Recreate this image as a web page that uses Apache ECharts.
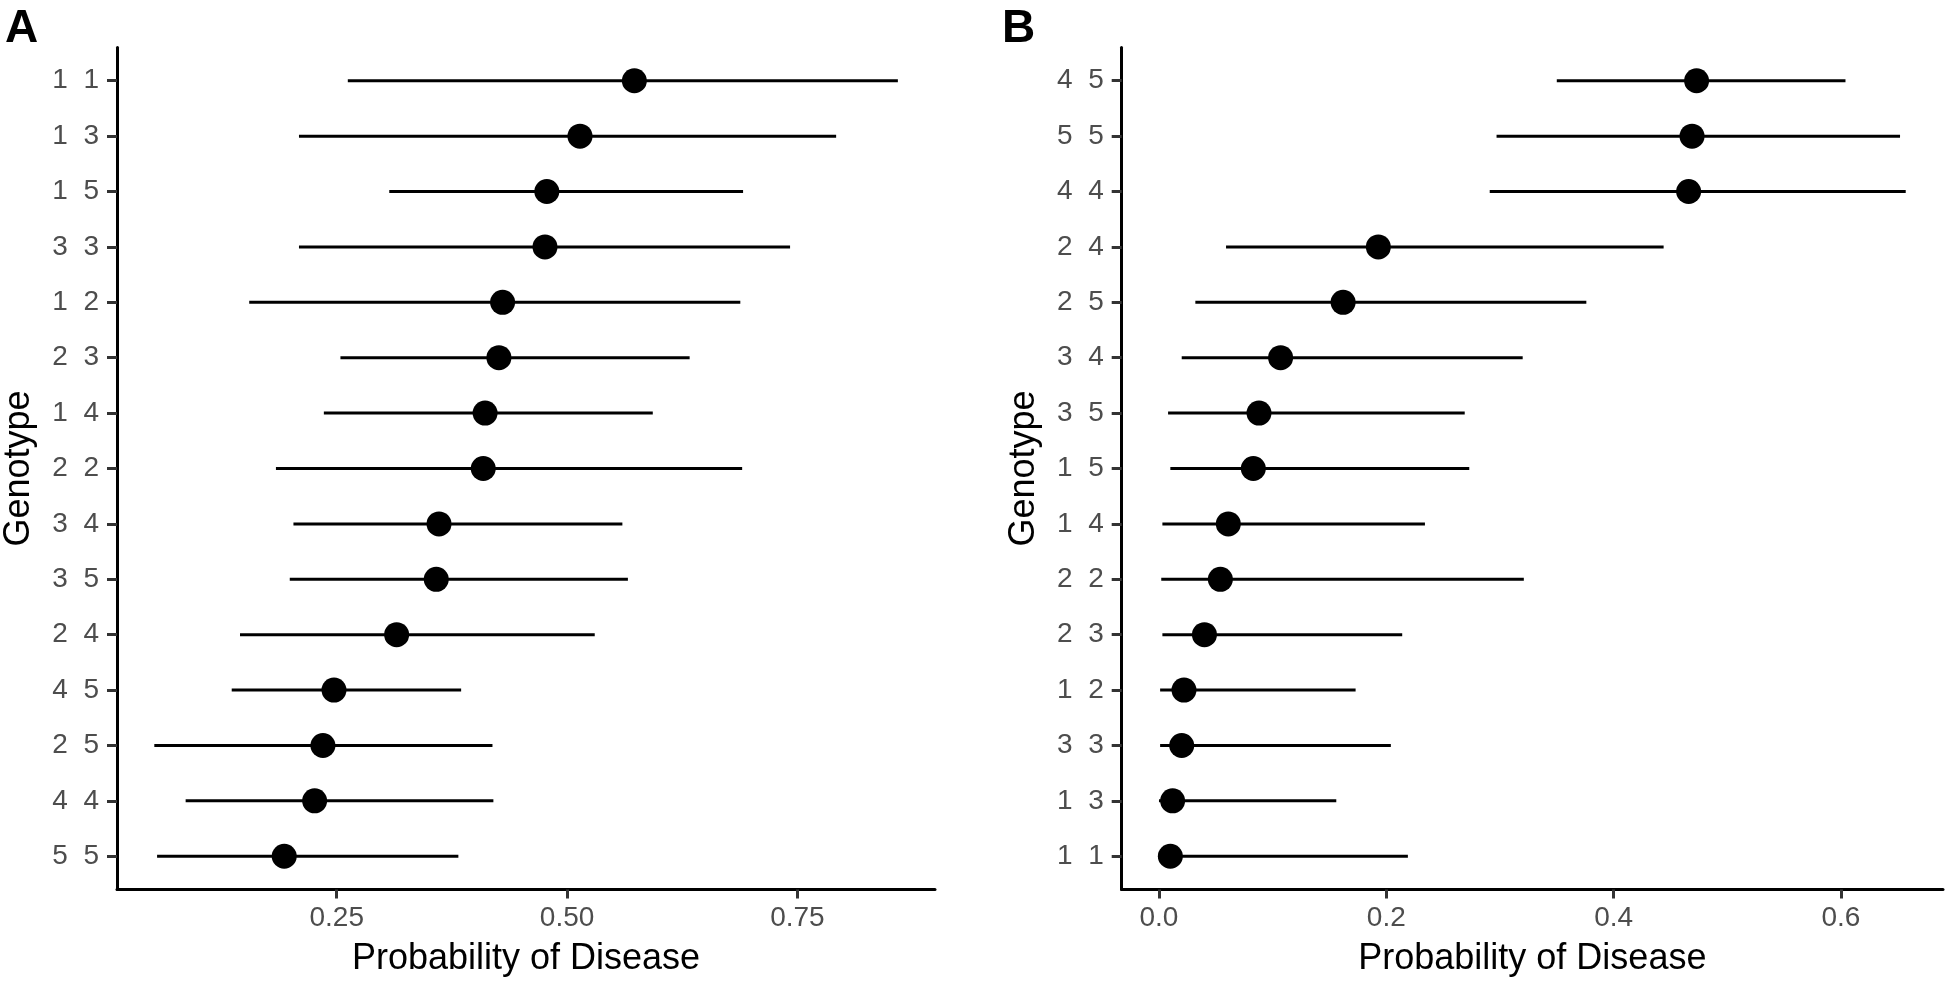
<!DOCTYPE html>
<html>
<head>
<meta charset="utf-8">
<script src="https://cdn.jsdelivr.net/npm/echarts@6/dist/echarts.min.js"></script>
<style>
html,body{margin:0;padding:0;background:#fff;}
#chart{width:1946px;height:983px;}
</style>
</head>
<body>
<div id="chart"></div>
<script>
// ---- Panel A data (top to bottom) ----
const catsA = ['1  1','1  3','1  5','3  3','1  2','2  3','1  4','2  2','3  4','3  5','2  4','4  5','2  5','4  4','5  5'];
const estA  = [0.573,0.514,0.478,0.476,0.430,0.426,0.411,0.409,0.361,0.358,0.315,0.247,0.235,0.226,0.193];
const lowA  = [0.262,0.209,0.307,0.209,0.155,0.254,0.236,0.184,0.203,0.199,0.145,0.136,0.052,0.086,0.055];
const highA = [0.859,0.792,0.691,0.742,0.688,0.633,0.593,0.690,0.560,0.566,0.530,0.385,0.419,0.420,0.382];
const ticksA = [0.25,0.50,0.75];

// ---- Panel B data (top to bottom) ----
const catsB = ['4  5','5  5','4  4','2  4','2  5','3  4','3  5','1  5','1  4','2  2','2  3','1  2','3  3','1  3','1  1'];
const estB  = [0.473,0.469,0.466,0.193,0.162,0.107,0.088,0.083,0.061,0.054,0.040,0.022,0.020,0.012,0.010];
const lowB  = [0.350,0.297,0.291,0.059,0.032,0.020,0.008,0.010,0.003,0.002,0.003,0.001,0.001,0.000,0.000];
const highB = [0.604,0.652,0.657,0.444,0.376,0.320,0.269,0.273,0.234,0.321,0.214,0.173,0.204,0.156,0.219];
const ticksB = [0.0,0.2,0.4,0.6];

const FONT = '"Liberation Sans", Arial, Helvetica, sans-serif';
const idx = catsA.map((_, i) => i);

function xAxisCfg(gridIndex, min, max, ticks, digits) {
  return {
    type: 'value', gridIndex, min, max,
    name: 'Probability of Disease', nameLocation: 'middle', nameGap: 52,
    nameTextStyle: { color: '#000', fontSize: 36, fontFamily: FONT },
    axisLine: { show: true, onZero: false, lineStyle: { color: '#000', width: 3 } },
    axisTick: { show: true, length: 9, customValues: ticks, lineStyle: { color: '#333', width: 3 } },
    axisLabel: { customValues: ticks, margin: 15, color: '#4d4d4d', fontSize: 28, fontFamily: FONT,
                 formatter: v => Number(v).toFixed(digits) },
    splitLine: { show: false }
  };
}
function yAxisCfg(gridIndex, cats) {
  return {
    type: 'value', gridIndex, inverse: true, min: -0.6, max: cats.length - 0.4,
    name: 'Genotype', nameLocation: 'middle', nameGap: 80,
    nameTextStyle: { color: '#000', fontSize: 36, fontFamily: FONT },
    axisLine: { show: true, onZero: false, lineStyle: { color: '#000', width: 3 } },
    axisTick: { show: true, length: 10, customValues: idx, lineStyle: { color: '#333', width: 3 } },
    axisLabel: { customValues: idx, margin: 18, color: '#4d4d4d', fontSize: 28, fontFamily: FONT,
                 formatter: v => cats[Math.round(v)] },
    splitLine: { show: false }
  };
}
function barSeries(ai, low, high) {
  return {
    type: 'custom', xAxisIndex: ai, yAxisIndex: ai,
    data: low.map((l, i) => [l, high[i], i]),
    encode: { x: [0, 1], y: 2 },
    renderItem: (params, api) => {
      const p1 = api.coord([api.value(0), api.value(2)]);
      const p2 = api.coord([api.value(1), api.value(2)]);
      return { type: 'line', shape: { x1: p1[0], y1: p1[1], x2: p2[0], y2: p2[1] },
               style: { stroke: '#000', lineWidth: 3 } };
    },
    z: 2
  };
}
function dotSeries(ai, est) {
  return {
    type: 'scatter', xAxisIndex: ai, yAxisIndex: ai,
    data: est.map((v, i) => [v, i]),
    symbol: 'circle', symbolSize: 25,
    itemStyle: { color: '#000', opacity: 1 },
    emphasis: { disabled: true },
    z: 3
  };
}

const chart = echarts.init(document.getElementById('chart'), null, { renderer: 'canvas' });
chart.setOption({
  animation: false,
  backgroundColor: '#fff',
  title: [
    { text: 'A', left: 0, top: 1, textStyle: { fontSize: 46, fontWeight: 'bold', color: '#000', fontFamily: FONT } },
    { text: 'B', left: 997, top: 1, textStyle: { fontSize: 46, fontWeight: 'bold', color: '#000', fontFamily: FONT } }
  ],
  grid: [
    { left: 113.3, right: 1011, top: 47.5, bottom: 93.5 },
    { left: 1121.7, right: 3, top: 47.5, bottom: 93.5 }
  ],
  xAxis: [
    xAxisCfg(0, 0.0115, 0.8993, ticksA, 2),
    xAxisCfg(1, -0.0328, 0.6898, ticksB, 1)
  ],
  yAxis: [ yAxisCfg(0, catsA), yAxisCfg(1, catsB) ],
  series: [
    barSeries(0, lowA, highA), dotSeries(0, estA),
    barSeries(1, lowB, highB), dotSeries(1, estB)
  ]
});
</script>
</body>
</html>
